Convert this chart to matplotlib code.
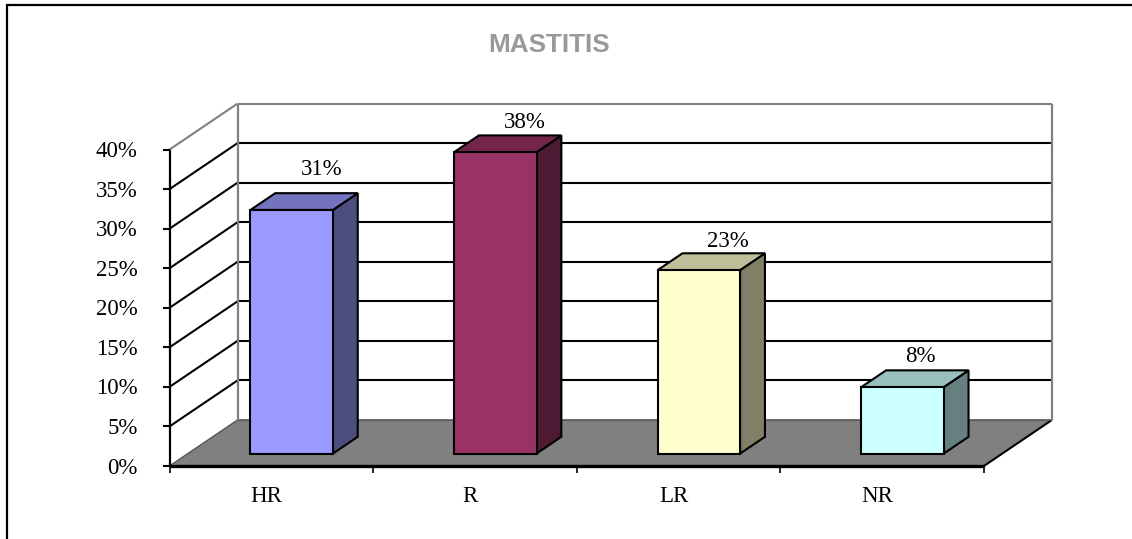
import matplotlib
matplotlib.use('Agg')
import matplotlib.pyplot as plt
from matplotlib.patches import Polygon

categories = ['HR', 'R', 'LR', 'NR']
values = [30.8, 38.1, 23.2, 8.4]
ticks = [0, 5, 10, 15, 20, 25, 30, 35, 40]
front_colors = ['#9999FF', '#993366', '#FFFFCC', '#CCFFFF']
side_colors = ['#4D4D80', '#4D1A33', '#808066', '#668080']
top_colors = ['#7373BF', '#732649', '#BFBF99', '#99BFBF']

# pseudo 3d projection, cat in category units, val in percent, d is depth 0-1
X0, Y0 = 169.5, 466
CAT_W = 203.6
PCT_H = 7.91
DX, DY = 68, -46

# data labels were moved by hand in the original
label_nudge = [(5, -8), (5, 3), (4, 4), (-7, 2)]


def pt(cat, val, d=0):
    return (X0 + cat * CAT_W + d * DX, Y0 - val * PCT_H + d * DY)


def face(ax, pts, color, zorder=3):
    ax.add_patch(Polygon(pts, closed=True, facecolor=color, edgecolor='black', lw=1.5,
                         joinstyle='miter', zorder=zorder))


def seg(ax, a, b, color='black', lw=1.5, zorder=2):
    ax.plot([a[0], b[0]], [a[1], b[1]], color=color, lw=lw, zorder=zorder,
            solid_capstyle='butt')


fig = plt.figure(figsize=(11.32, 5.39), dpi=100)
ax = fig.add_axes([0, 0, 1, 1])
ax.set_xlim(0, 1132)
ax.set_ylim(539, 0)
ax.axis('off')

# outer chart border
ax.plot([7, 7, 1132], [539, 5, 5], color='black', lw=1.6, zorder=1, solid_joinstyle='miter')
ax.text(549, 45, 'MASTITIS', color='#999999', fontsize=18.8, fontweight='bold',
        family='Liberation Sans', ha='center', va='center')

ncat = len(categories)

# floor
ax.add_patch(Polygon([pt(0, 0), pt(ncat, 0), pt(ncat, 0, 1), pt(0, 0, 1)], closed=True,
                     facecolor='#808080', edgecolor='none', zorder=1))
seg(ax, pt(ncat, 0), pt(ncat, 0, 1))
seg(ax, pt(0, 0, 1), pt(ncat, 0, 1), color='#555555', lw=1.2)
seg(ax, pt(0, 0), pt(0, 0, 1), color='#555555', lw=1.0)

# gridlines on the side and back walls
for t in ticks:
    col = '#808080' if t == ticks[-1] else 'black'
    if t > 0:
        seg(ax, pt(0, t), pt(0, t, 1), color=col)
        seg(ax, pt(0, t, 1), pt(ncat, t, 1), color=col)
    p = pt(0, t)
    seg(ax, (p[0] - 7, p[1]), p)
    ax.text(p[0] - 32, p[1] + 2, f'{t}%', family='Liberation Serif', fontsize=16.5,
            ha='right', va='center', color='black')

# wall edges
seg(ax, pt(0, 0, 1), pt(0, ticks[-1], 1), color='#808080', lw=1.6)
seg(ax, pt(ncat, 0, 1), pt(ncat, ticks[-1], 1), color='#808080', lw=1.6)

# axes
seg(ax, pt(0, 0), pt(0, ticks[-1]), lw=1.6, zorder=6)
seg(ax, pt(0, 0), pt(ncat, 0), lw=2.4, zorder=6)
for i in range(ncat + 1):
    p = pt(i, 0)
    seg(ax, p, (p[0], p[1] + 7), lw=1.2, zorder=6)

# bars
bar_w = 0.405
d1, d2 = 0.27, 0.635
for i, (name, v) in enumerate(zip(categories, values)):
    left = i + 0.51 - bar_w / 2
    right = i + 0.51 + bar_w / 2
    face(ax, [pt(right, 0, d1), pt(right, 0, d2), pt(right, v, d2), pt(right, v, d1)], side_colors[i])
    face(ax, [pt(left, v, d1), pt(right, v, d1), pt(right, v, d2), pt(left, v, d2)], top_colors[i])
    face(ax, [pt(left, 0, d1), pt(right, 0, d1), pt(right, v, d1), pt(left, v, d1)], front_colors[i])
    lab = pt(i + 0.5, v, d2)
    ax.text(lab[0] + 2 + label_nudge[i][0], lab[1] - 16 + label_nudge[i][1], f'{v:.0f}%',
            family='Liberation Serif', fontsize=16.5,
            ha='center', va='center', color='black', zorder=7)
    c = pt(i + 0.5, 0)
    ax.text(c[0] - 5, c[1] + 31, name, family='Liberation Serif', fontsize=16.5,
            ha='center', va='center', color='black')

fig.savefig('out.png', dpi=100)
